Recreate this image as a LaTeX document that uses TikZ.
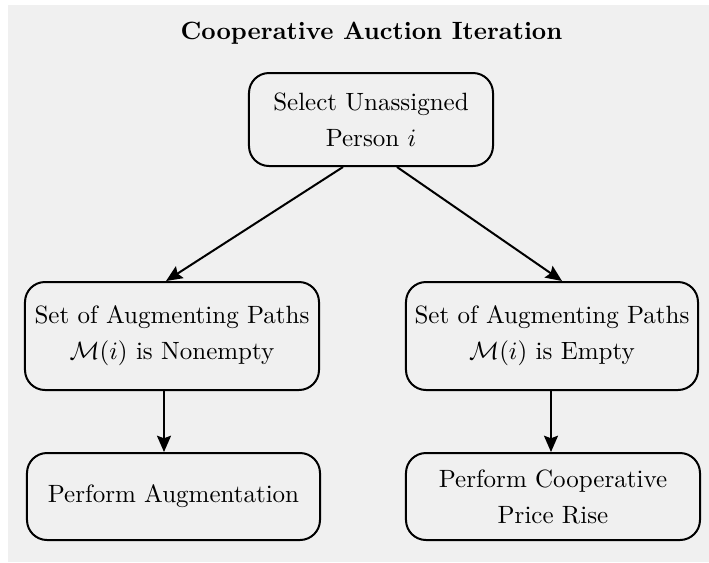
\documentclass[tikz,border=0pt]{standalone}
\usetikzlibrary{arrows.meta}
\definecolor{bggray}{HTML}{F0F0F0}
\begin{document}
\begin{tikzpicture}[x=0.4pt,y=-0.4pt,
  box/.style={draw=black, line width=0.8pt, rounded corners=8pt, align=center,
    inner sep=2pt, font=\linespread{1.2}\selectfont},
  arr/.style={line width=0.8pt, -{Stealth[length=6.5pt,width=5.6pt,inset=1pt]}}]
\useasboundingbox (0,0) rectangle (709,562);
\fill[bggray] (8,5) rectangle (709,562);
\node[font=\bfseries] (title) at (371.5,33) {Cooperative Auction Iteration};
\node[box, minimum width=97.6pt, minimum height=37.2pt] (sel) at (371,119.5)
  {Select Unassigned\\Person $i$};
\node[box, minimum width=117.6pt, minimum height=43.2pt] (ne) at (172,336)
  {Set of Augmenting Paths\\$\mathcal{M}(i)$ is Nonempty};
\node[box, minimum width=116.8pt, minimum height=43.2pt] (em) at (552,336)
  {Set of Augmenting Paths\\$\mathcal{M}(i)$ is Empty};
\node[box, minimum width=117.2pt, minimum height=34.8pt] (aug) at (173.5,496.5)
  {\raisebox{1.2pt}{Perform Augmentation}};
\node[box, minimum width=117.6pt, minimum height=34.8pt] (rise) at (553,496.5)
  {Perform Cooperative\\Price Rise};
\draw[arr] ([xshift=-11.2pt]sel.south) -- ([xshift=-2.4pt]ne.north);
\draw[arr] ([xshift=10.4pt]sel.south) -- ([xshift=4pt]em.north);
\draw[arr] ([xshift=-3.2pt]ne.south) -- ([xshift=-3.2pt]ne.south |- aug.north);
\draw[arr] ([xshift=-0.4pt]em.south) -- ([xshift=-0.4pt]em.south |- rise.north);
\end{tikzpicture}
\end{document}
